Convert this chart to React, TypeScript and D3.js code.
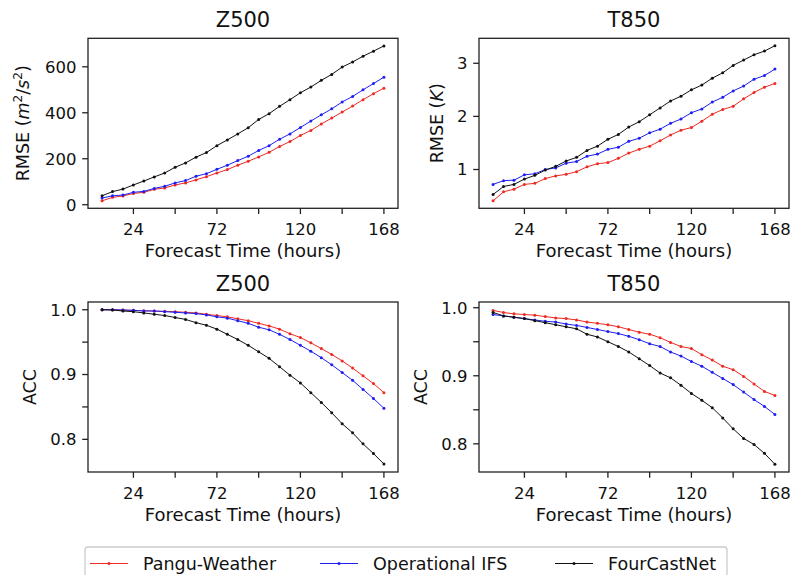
import React from 'react';
import * as d3 from 'd3';

// forecast lead times (hours)
const hours = [6, 12, 18, 24, 30, 36, 42, 48, 54, 60, 66, 72, 78, 84, 90, 96, 102, 108, 114, 120, 126, 132, 138, 144, 150, 156, 162, 168];
const xTicks = [24, 48, 72, 96, 120, 144, 168];
const xLabeled = [24, 72, 120, 168];

const seriesNames = ['Pangu-Weather', 'Operational IFS', 'FourCastNet'];
const seriesColors = ['#ee2a22', '#1f1ff2', '#111111'];

// Z500 RMSE
const z500RmsePangu = [17, 32, 38, 49, 54, 67, 73, 86, 95, 108, 122, 138, 153, 172, 189, 208, 228, 253, 275, 301, 323, 351, 377, 403, 429, 457, 483, 507];
const z500RmseIfs = [29, 39, 42, 54, 58, 71, 80, 95, 105, 124, 135, 154, 172, 192, 211, 236, 257, 285, 308, 336, 364, 391, 417, 447, 471, 500, 527, 555];
const z500RmseFcn = [39, 57, 68, 86, 103, 121, 138, 163, 182, 207, 227, 257, 282, 308, 335, 371, 396, 428, 457, 487, 512, 541, 567, 599, 621, 646, 668, 691];

// T850 RMSE
const t850RmsePangu = [0.41, 0.58, 0.63, 0.72, 0.74, 0.83, 0.88, 0.91, 0.96, 1.05, 1.11, 1.13, 1.21, 1.31, 1.38, 1.44, 1.54, 1.65, 1.74, 1.79, 1.91, 2.04, 2.13, 2.19, 2.33, 2.45, 2.55, 2.62];
const t850RmseIfs = [0.72, 0.79, 0.8, 0.9, 0.92, 1.0, 1.03, 1.12, 1.15, 1.25, 1.29, 1.38, 1.42, 1.53, 1.59, 1.69, 1.76, 1.87, 1.95, 2.07, 2.14, 2.27, 2.36, 2.48, 2.57, 2.7, 2.77, 2.89];
const t850RmseFcn = [0.53, 0.68, 0.72, 0.82, 0.89, 0.99, 1.06, 1.16, 1.23, 1.36, 1.44, 1.57, 1.66, 1.8, 1.9, 2.03, 2.16, 2.29, 2.38, 2.5, 2.59, 2.72, 2.82, 2.96, 3.06, 3.16, 3.23, 3.33];

// Z500 ACC
const z500AccPangu = [1.0, 1.0, 0.9995, 0.999, 0.9985, 0.998, 0.9975, 0.997, 0.996, 0.995, 0.993, 0.991, 0.989, 0.986, 0.983, 0.979, 0.975, 0.97, 0.963, 0.957, 0.949, 0.94, 0.931, 0.921, 0.91, 0.898, 0.886, 0.872];
const z500AccIfs = [1.0, 1.0, 0.9995, 0.999, 0.998, 0.998, 0.997, 0.996, 0.995, 0.994, 0.992, 0.989, 0.987, 0.983, 0.979, 0.973, 0.969, 0.962, 0.954, 0.945, 0.936, 0.926, 0.915, 0.903, 0.891, 0.877, 0.863, 0.848];
const z500AccFcn = [1.0, 0.9995, 0.998, 0.997, 0.995, 0.993, 0.991, 0.988, 0.985, 0.98, 0.976, 0.97, 0.962, 0.954, 0.945, 0.935, 0.925, 0.912, 0.899, 0.887, 0.872, 0.857, 0.841, 0.824, 0.81, 0.793, 0.778, 0.762];

// T850 ACC
const t850AccPangu = [0.996, 0.993, 0.991, 0.99, 0.989, 0.987, 0.985, 0.984, 0.982, 0.979, 0.977, 0.975, 0.972, 0.968, 0.964, 0.961, 0.956, 0.949, 0.943, 0.94, 0.931, 0.923, 0.914, 0.909, 0.899, 0.888, 0.877, 0.871];
const t850AccIfs = [0.99, 0.988, 0.986, 0.984, 0.982, 0.98, 0.979, 0.976, 0.974, 0.971, 0.968, 0.965, 0.962, 0.958, 0.953, 0.947, 0.943, 0.935, 0.929, 0.921, 0.914, 0.905, 0.896, 0.887, 0.876, 0.865, 0.855, 0.843];
const t850AccFcn = [0.993, 0.988, 0.986, 0.984, 0.981, 0.978, 0.975, 0.972, 0.969, 0.961, 0.957, 0.95, 0.943, 0.935, 0.925, 0.915, 0.904, 0.897, 0.886, 0.874, 0.864, 0.853, 0.838, 0.822, 0.808, 0.799, 0.786, 0.77];

const FONT = 'DejaVu Sans, sans-serif';
const TICK = 5.8;
const PAD = 5.8;

type PanelProps = {
  left: number;
  top: number;
  width: number;
  height: number;
  title: string;
  ylabel: React.ReactNode;
  ylabelX: number;
  yDomain: [number, number];
  yTicks: number[];
  yLabeled: number[];
  fmt: (v: number) => string;
  series: number[][];
};

const Panel = ({ left, top, width, height, title, ylabel, ylabelX, yDomain, yTicks, yLabeled, fmt, series }: PanelProps) => {
  const x = d3.scaleLinear().domain([-2.1, 176.1]).range([left, left + width]);
  const y = d3.scaleLinear().domain(yDomain).range([top + height, top]);
  const line = d3.line<number>()
    .x((_, i) => x(hours[i]))
    .y(d => y(d));
  const bottom = top + height;
  const cy = top + height / 2;

  return (
    <g>
      {series.map((s, si) => (
        <g key={si}>
          <path d={line(s) || ''} fill="none" stroke={seriesColors[si]} strokeWidth={1} />
          {s.map((v, i) => (
            <circle key={i} cx={x(hours[i])} cy={y(v)} r={1.5} fill={seriesColors[si]} />
          ))}
        </g>
      ))}
      <rect x={left} y={top} width={width} height={height} fill="none" stroke="#222" strokeWidth={1.3} />
      {xTicks.map(t => (
        <g key={t}>
          <line x1={x(t)} x2={x(t)} y1={bottom} y2={bottom + TICK} stroke="#222" strokeWidth={1.3} />
          {xLabeled.includes(t) && (
            <text x={x(t)} y={bottom + 26.5} textAnchor="middle" fontSize={16.5} fill="#111">{t}</text>
          )}
        </g>
      ))}
      {yTicks.map(t => (
        <g key={t}>
          <line x1={left - TICK} x2={left} y1={y(t)} y2={y(t)} stroke="#222" strokeWidth={1.3} />
          {yLabeled.includes(t) && (
            <text x={left - TICK - PAD} y={y(t)} dy="0.36em" textAnchor="end" fontSize={16.5} fill="#111">{fmt(t)}</text>
          )}
        </g>
      ))}
      <text x={left + width / 2} y={bottom + 49} textAnchor="middle" fontSize={18} fill="#111">Forecast Time (hours)</text>
      <text x={left + width / 2} y={top - 11} textAnchor="middle" fontSize={21} fill="#111">{title}</text>
      <text transform={`translate(${ylabelX},${cy}) rotate(-90)`} textAnchor="middle" fontSize={17.5} fill="#111">{ylabel}</text>
    </g>
  );
};

const rmseZLabel = (
  <>
    <tspan>RMSE (</tspan>
    <tspan fontStyle="italic">m</tspan>
    <tspan fontSize={12} dy={-7}>2</tspan>
    <tspan dy={7}>/</tspan>
    <tspan fontStyle="italic">s</tspan>
    <tspan fontSize={12} dy={-7}>2</tspan>
    <tspan dy={7}>)</tspan>
  </>
);

const rmseTLabel = (
  <>
    <tspan>RMSE (</tspan>
    <tspan fontStyle="italic">K</tspan>
    <tspan>)</tspan>
  </>
);

const legendHandles = [90, 320, 555];

export default function App() {
  const colLeft = [88, 479];
  const w = 310;
  const h = 170;
  const rowTop = [38.3, 302];
  return (
    <svg width={795} height={575} style={{ position: 'absolute', left: 0, top: 0, fontFamily: FONT }}>
      <rect width={795} height={575} fill="#fff" />
      <Panel left={colLeft[0]} top={rowTop[0]} width={w} height={h} title="Z500" ylabel={rmseZLabel} ylabelX={29}
        yDomain={[-15.6, 724]} yTicks={[0, 200, 400, 600]} yLabeled={[0, 200, 400, 600]} fmt={d3.format('d')}
        series={[z500RmsePangu, z500RmseIfs, z500RmseFcn]} />
      <Panel left={colLeft[1]} top={rowTop[0]} width={w} height={h} title="T850" ylabel={rmseTLabel} ylabelX={443}
        yDomain={[0.27, 3.47]} yTicks={[1, 2, 3]} yLabeled={[1, 2, 3]} fmt={d3.format('d')}
        series={[t850RmsePangu, t850RmseIfs, t850RmseFcn]} />
      <Panel left={colLeft[0]} top={rowTop[1]} width={w} height={h} title="Z500" ylabel="ACC" ylabelX={36}
        yDomain={[0.7496, 1.0119]} yTicks={[0.8, 0.85, 0.9, 0.95, 1.0]} yLabeled={[0.8, 0.9, 1.0]} fmt={d3.format('.1f')}
        series={[z500AccPangu, z500AccIfs, z500AccFcn]} />
      <Panel left={colLeft[1]} top={rowTop[1]} width={w} height={h} title="T850" ylabel="ACC" ylabelX={427}
        yDomain={[0.7586, 1.0084]} yTicks={[0.8, 0.85, 0.9, 0.95, 1.0]} yLabeled={[0.8, 0.9, 1.0]} fmt={d3.format('.1f')}
        series={[t850AccPangu, t850AccIfs, t850AccFcn]} />

      {/* legend */}
      <rect x={85} y={547} width={642} height={40} rx={3} fill="#fff" stroke="#cccccc" strokeWidth={1.3} />
      {seriesNames.map((name, i) => (
        <g key={name}>
          <line x1={legendHandles[i]} x2={legendHandles[i] + 38} y1={563.5} y2={563.5} stroke={seriesColors[i]} strokeWidth={1} />
          <circle cx={legendHandles[i] + 19} cy={563.5} r={1.5} fill={seriesColors[i]} />
          <text x={legendHandles[i] + 53} y={569.5} fontSize={17.5} fill="#111">{name}</text>
        </g>
      ))}
    </svg>
  );
}
